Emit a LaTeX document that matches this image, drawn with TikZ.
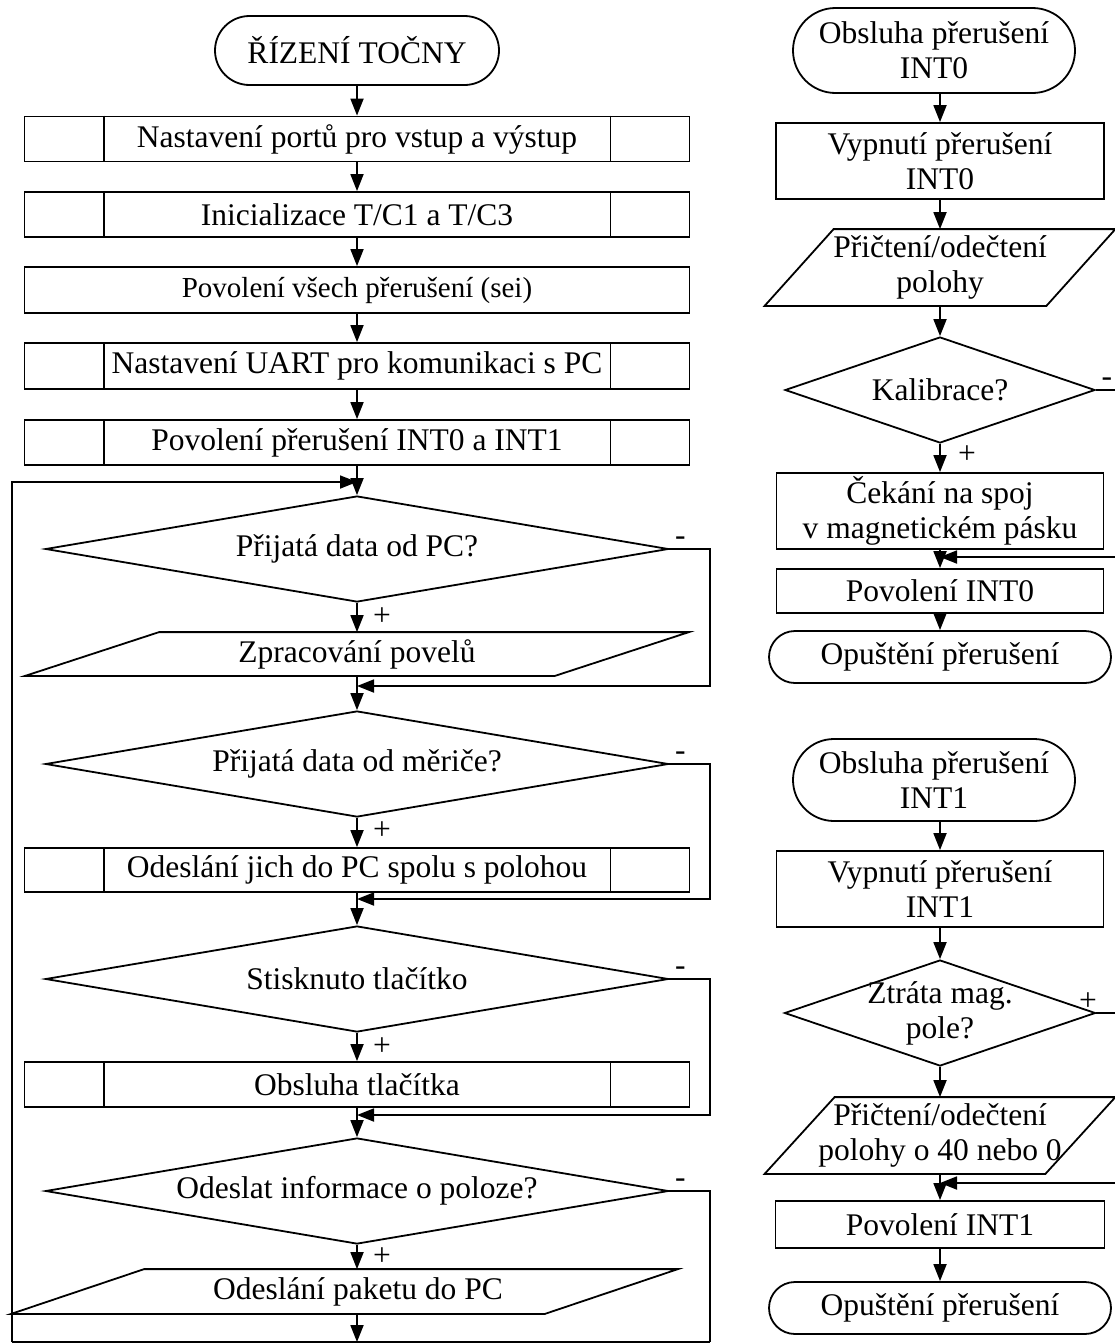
\documentclass[tikz,border=0pt]{standalone}
\usepackage{fontspec}
\setmainfont{Liberation Serif}
\usetikzlibrary{shapes.geometric,shapes.misc,arrows.meta}

\tikzset{
  term/.style={draw, rounded rectangle, inner sep=0pt, align=center},
  proc/.style={draw, rectangle, inner sep=0pt, align=center},
  dec/.style={draw, diamond, inner sep=0pt},
  io/.style={inner sep=0pt, align=center},
  txt/.style={inner sep=0pt, align=center},
  arr/.style={-{Triangle[length=17pt,width=13pt]}}
}

\begin{document}
\begin{tikzpicture}[x=1pt,y=-1pt,line width=1.8pt,font=\fontsize{31.5}{35}\selectfont]
    \useasboundingbox (0,0) rectangle (1115,1344);
    \clip (0,0) rectangle (1115,1344);
    \node[term,minimum width=284pt,minimum height=69pt] (start) at (357,50.5) {ŘÍZENÍ TOČNY};
    \node[proc,minimum width=665pt,minimum height=45pt] (nast) at (357,139) {Nastavení portů pro vstup a výstup};
    \node[proc,minimum width=665pt,minimum height=45pt] (init) at (357,214.5) {Inicializace T/C1 a T/C3};
    \node[proc,minimum width=665pt,minimum height=46pt,font=\fontsize{29}{35}\selectfont] (sei) at (357,290) {Povolení všech přerušení (sei)};
    \node[proc,minimum width=665pt,minimum height=46pt] (uart) at (357,366) {Nastavení UART pro komunikaci s PC};
    \node[proc,minimum width=665pt,minimum height=45pt] (povint) at (357,442.5) {Povolení přerušení INT0 a INT1};
    \node[dec,minimum width=623pt,minimum height=106pt] (dec1) at (357,549) {};
    \node[txt] (dec1t) at (dec1) {Přijatá data od PC?};
    \node[io,minimum width=662pt,minimum height=42pt] (zprac) at (357,654) {Zpracování povelů};
    \node[dec,minimum width=623pt,minimum height=106pt] (dec2) at (357,764) {};
    \node[txt] (dec2t) at (dec2) {Přijatá data od měriče?};
    \node[proc,minimum width=665pt,minimum height=44pt] (odesl) at (357,870) {Odeslání jich do PC spolu s polohou};
    \node[dec,minimum width=623pt,minimum height=106pt] (dec3) at (357,979) {};
    \node[txt] (dec3t) at (dec3) {Stisknuto tlačítko};
    \node[proc,minimum width=665pt,minimum height=45pt] (tlac) at (357,1084.5) {Obsluha tlačítka};
    \node[dec,minimum width=623pt,minimum height=106pt] (dec4) at (357,1191) {};
    \node[txt] (dec4t) at (dec4) {Odeslat informace o poloze?};
    \node[io,minimum width=665pt,minimum height=43pt] (paket) at (344.5,1291.5) {\hspace*{27pt}Odeslání paketu do PC};

    \node[term,minimum width=282pt,minimum height=85pt] (t0) at (934,50.5) {Obsluha přerušení\\INT0};
    \node[proc,minimum width=328pt,minimum height=76pt] (v0) at (940,161) {Vypnutí přerušení\\INT0};
    \node[io,minimum width=349pt,minimum height=75pt] (p0) at (940,267.5) {Přičtení/odečtení\\polohy};
    \node[dec,minimum width=310pt,minimum height=106pt] (k0) at (940,390) {};
    \node[txt] (k0t) at (k0) {Kalibrace?};
    \node[proc,minimum width=327pt,minimum height=76pt] (c0) at (940,511) {Čekání na spoj\\v magnetickém pásku};
    \node[proc,minimum width=327pt,minimum height=44pt] (e0) at (940,591) {Povolení INT0};
    \node[term,minimum width=342pt,minimum height=52pt] (o0) at (940,657) {Opuštění přerušení};

    \node[term,minimum width=282pt,minimum height=82pt] (t1) at (934,780) {Obsluha přerušení\\INT1};
    \node[proc,minimum width=327pt,minimum height=76pt] (v1) at (940,889) {Vypnutí přerušení\\INT1};
    \node[dec,minimum width=311pt,minimum height=106pt] (z1) at (940,1013) {};
    \node[txt] (z1t) at (z1) {Ztráta mag.\\pole?};
    \node[io,minimum width=349pt,minimum height=75pt] (p1) at (940,1135.5) {Přičtení/odečtení\\polohy o 40 nebo 0};
    \node[proc,minimum width=329pt,minimum height=47pt] (e1) at (940,1224.5) {Povolení INT1};
    \node[term,minimum width=342pt,minimum height=52pt] (o1) at (940,1308) {Opuštění přerušení};

    \foreach \n in {nast,init,uart,povint,odesl,tlac}
        \draw ([xshift=80pt]\n.north west) -- ([xshift=80pt]\n.south west)
              ([xshift=-80pt]\n.north east) -- ([xshift=-80pt]\n.south east);
    \foreach \n/\s in {zprac/134pt,paket/133pt,p0/69pt,p1/70pt}
        \draw ([xshift=\s]\n.north west) -- (\n.north east) -- ([xshift=-\s]\n.south east) -- (\n.south west) -- cycle;

    \node[txt] (plus1) at (382,617) {+};
    \node[txt] (plus2) at (382,831) {+};
    \node[txt] (plus3) at (382,1047) {+};
    \node[txt] (plus4) at (382,1257) {+};
    \node[txt] (plus5) at (967,455) {+};
    \node[txt] (plus6) at (1088,1002) {+};
    \node[txt] (minus1) at ([shift={(11,-8)}]dec1.east) {-};
    \node[txt] (minus2) at ([shift={(11,-8)}]dec2.east) {-};
    \node[txt] (minus3) at ([shift={(11,-8)}]dec3.east) {-};
    \node[txt] (minus4) at ([shift={(11,-8)}]dec4.east) {-};
    \node[txt] (minus5) at ([shift={(11,-8)}]k0.east) {-};

    \coordinate (loop) at (357,482);
    \coordinate (j1) at (357,686);
    \coordinate (j2) at (357,899);
    \coordinate (j3) at (357,1115);
    \coordinate (bl) at (12,1342);
    \coordinate (br) at (710,1342);
    \coordinate (j4) at (940,557);
    \coordinate (j5) at (940,1183);
    \coordinate (edge) at (1125,0);

    \foreach \a/\b in {start/nast,nast/init,init/sei,sei/uart,uart/povint,povint/dec1,dec1/zprac,zprac/dec2,dec2/odesl,odesl/dec3,dec3/tlac,tlac/dec4,v0/p0,p0/k0,k0/c0,c0/e0,e0/o0,v1/z1,z1/p1,p1/e1,e1/o1}
        \draw[arr] (\a) -- (\b);
    \draw[arr] (dec4) -- (dec4 |- paket.north);
    \draw[arr] (paket.south -| dec4) -- (dec4 |- bl);
    \draw[arr] (v0 |- t0.south) -- (v0);
    \draw[arr] (v1 |- t1.south) -- (v1);
    \draw (bl) -- (br);
    \draw[arr] (bl) |- (loop);
    \draw[arr] (dec1.east) -- (dec1.east -| br) |- (j1);
    \draw[arr] (dec2.east) -- (dec2.east -| br) |- (j2);
    \draw[arr] (dec3.east) -- (dec3.east -| br) |- (j3);
    \draw (dec4.east) -| (br);
    \draw[arr] (k0.east) -- (k0.east -| edge) |- (j4);
    \draw[arr] (z1.east) -- (z1.east -| edge) |- (j5);
\end{tikzpicture}
\end{document}
